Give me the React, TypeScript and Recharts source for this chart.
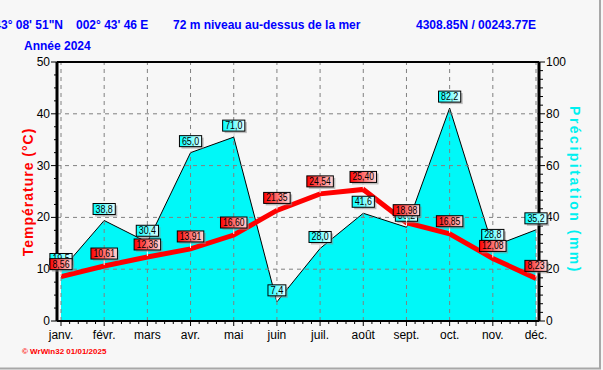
import {
  ComposedChart,
  Area,
  Line,
  LabelList,
  ReferenceLine,
  XAxis,
  YAxis,
} from "recharts";

const months = ["janv.", "févr.", "mars", "avr.", "mai", "juin", "juil.", "août", "sept.", "oct.", "nov.", "déc."];
const temperature = [8.56, 10.61, 12.36, 13.91, 16.6, 21.35, 24.54, 25.4, 18.98, 16.85, 12.08, 8.23];
const precipitation = [19.5, 38.8, 30.4, 65.0, 71.0, 7.4, 28.0, 41.6, 36.2, 82.2, 28.8, 35.2];
const tempTicks = [0, 10, 20, 30, 40, 50];
const precipTicks = [0, 20, 40, 60, 80, 100];

const FONT = '"Liberation Sans", Arial, sans-serif';

const data = months.map((m, i) => ({ i, month: m, temp: temperature[i], precip: precipitation[i] }));

// minor ticks: 4 between majors on left/bottom, 5 on the right
const leftMinor = Array.from({ length: 21 }, (_, k) => k * 2.5);
const rightMinor = Array.from({ length: 31 }, (_, k) => (k * 10) / 3);
const xMinor = Array.from({ length: 56 }, (_, k) => k / 5);

function LeftTick({ x, y, payload }: any) {
  const v = payload.value;
  const major = tempTicks.includes(v);
  return (
    <g>
      <line x1={x - (major ? 6 : 3)} x2={x} y1={y} y2={y} stroke="#000" />
      {major && (
        <text x={x - 7} y={y + 4} textAnchor="end" fontSize={12} fontFamily={FONT} fill="#000">
          {v}
        </text>
      )}
    </g>
  );
}

function RightTick({ x, y, payload }: any) {
  const v = payload.value;
  const major = precipTicks.some((t) => Math.abs(t - v) < 1e-6);
  return (
    <g>
      <line x1={x} x2={x + (major ? 6 : 4)} y1={y} y2={y} stroke="#000" />
      {major && (
        <text x={x + 7} y={y + 4} textAnchor="start" fontSize={12} fontFamily={FONT} fill="#000">
          {Math.round(v)}
        </text>
      )}
    </g>
  );
}

function BottomTick({ x, y, payload }: any) {
  const v = payload.value;
  const major = Number.isInteger(v);
  return (
    <g>
      <line x1={x} x2={x} y1={y} y2={y + (major ? 5 : 3)} stroke="#000" />
      {major && (
        <text x={x} y={y + 18} textAnchor="middle" fontSize={12} fontFamily={FONT} fill="#000">
          {months[v]}
        </text>
      )}
    </g>
  );
}

function boxLabel(kind: "temp" | "precip") {
  return (props: any) => {
    const { x, y, value } = props;
    if (x == null || y == null || value == null) return null;
    const text = kind === "temp" ? Number(value).toFixed(2).replace(".", ",") : Number(value).toFixed(1).replace(".", ",");
    const w = text.length * 4.3 + 5;
    const h = 11;
    const gap = kind === "temp" ? 7 : 6;
    const top = y - gap - h;
    const left = x - w / 2;
    return (
      <g>
        <line x1={x} x2={x} y1={top + h} y2={y - 1} stroke="#fff" strokeWidth={1} />
        <rect x={left + 2} y={top + 2} width={w} height={h} fill="#8c8c8c" opacity={0.55} />
        <rect
          x={left}
          y={top}
          width={w}
          height={h}
          fill={kind === "temp" ? "url(#gradTemp)" : "url(#gradPrecip)"}
          stroke="#000"
          strokeWidth={1}
        />
        <text
          x={x}
          y={top + 9}
          textAnchor="middle"
          fontSize={10}
          fontFamily={FONT}
          fill="#000"
          textLength={w - 5}
          lengthAdjust="spacingAndGlyphs"
        >
          {text}
        </text>
      </g>
    );
  };
}

export default function App() {
  return (
    <div style={{ position: "absolute", left: 0, top: 0, width: 603, height: 370, background: "#f7f7f7" }}>
      <ComposedChart width={603} height={370} data={data} margin={{ top: 62, right: 20, bottom: 20, left: 0 }}>
        <defs>
          <linearGradient id="gradTemp" x1="0" x2="1" y1="0" y2="0">
            <stop offset="0%" stopColor="#ff0000" />
            <stop offset="100%" stopColor="#ffd8d8" />
          </linearGradient>
          <linearGradient id="gradPrecip" x1="0" x2="1" y1="0" y2="0">
            <stop offset="0%" stopColor="#00ffff" />
            <stop offset="100%" stopColor="#e4ffff" />
          </linearGradient>
        </defs>
        <XAxis
          dataKey="i"
          type="number"
          domain={[0, 11]}
          ticks={xMinor}
          interval={0}
          padding={{ left: 4, right: 3 }}
          height={29}
          tickSize={0}
          tickMargin={0}
          tickLine={false}
          axisLine={{ stroke: "#000", strokeWidth: 2 }}
          tick={<BottomTick />}
        />
        <YAxis
          yAxisId="left"
          domain={[0, 50]}
          ticks={leftMinor}
          interval={0}
          width={57}
          tickSize={0}
          tickMargin={0}
          tickLine={false}
          axisLine={{ stroke: "#000", strokeWidth: 3 }}
          tick={<LeftTick />}
        />
        <YAxis
          yAxisId="right"
          orientation="right"
          domain={[0, 100]}
          ticks={rightMinor}
          interval={0}
          width={44}
          tickSize={0}
          tickMargin={0}
          tickLine={false}
          axisLine={{ stroke: "#000", strokeWidth: 3 }}
          tick={<RightTick />}
        />
        {[10, 20, 30, 40].map((v) => (
          <ReferenceLine key={"h" + v} yAxisId="left" y={v} stroke="#808080" strokeDasharray="4 4" />
        ))}
        {data.map((d) => (
          <ReferenceLine key={"v" + d.i} yAxisId="left" x={d.i} stroke="#808080" strokeDasharray="4 4" />
        ))}
        <ReferenceLine yAxisId="left" y={50} stroke="#000" strokeWidth={2} />
        <Area
          yAxisId="right"
          dataKey="precip"
          type="linear"
          fill="#00f8f8"
          fillOpacity={1}
          stroke="#000"
          strokeWidth={1}
          isAnimationActive={false}
          dot={false}
          activeDot={false}
        >
          <LabelList dataKey="precip" content={boxLabel("precip")} />
        </Area>
        <Line
          yAxisId="left"
          dataKey="temp"
          type="linear"
          stroke="#ff0000"
          strokeWidth={5}
          dot={false}
          activeDot={false}
          isAnimationActive={false}
        >
          <LabelList dataKey="temp" content={boxLabel("temp")} />
        </Line>
      </ComposedChart>
      <svg
        width={603}
        height={370}
        style={{ position: "absolute", left: 0, top: 0, pointerEvents: "none" }}
        fontFamily={FONT}
      >
        <g fontSize={12} fontWeight="bold" fill="#0000ff">
          <text x={63} y={29} textAnchor="end">43° 08' 51"N</text>
          <text x={76} y={29}>002° 43' 46 E</text>
          <text x={173} y={29}>72 m niveau au-dessus de la mer</text>
          <text x={416} y={29}>4308.85N / 00243.77E</text>
          <text x={24} y={50}>Année  2024</text>
        </g>
        <text
          x={28}
          y={192}
          transform="rotate(-90 28 192)"
          textAnchor="middle"
          dominantBaseline="central"
          fontSize={14}
          fontWeight="bold"
          fill="#ff0000"
          letterSpacing={1}
        >
          Température  (°C)
        </text>
        <text
          x={575}
          y={190}
          transform="rotate(90 575 190)"
          textAnchor="middle"
          dominantBaseline="central"
          fontSize={14}
          fontWeight="bold"
          fill="#00f0f0"
          letterSpacing={2.5}
        >
          Précipitation  (mm)
        </text>
        <text x={22} y={354} fontSize={8} fontWeight="bold" fill="#ff0000">
          © WrWin32  01/01/2025
        </text>
        <line x1={600} x2={600} y1={0} y2={369} stroke="#a8a8a8" strokeWidth={2} />
        <line x1={0} x2={601} y1={368.5} y2={368.5} stroke="#a8a8a8" strokeWidth={2} />
      </svg>
    </div>
  );
}
